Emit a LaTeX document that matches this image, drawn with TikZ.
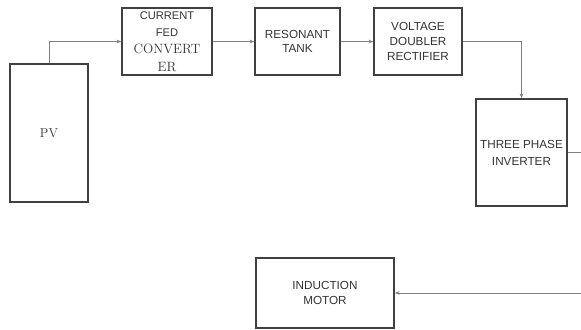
\documentclass[tikz,border=0pt]{standalone}
\usepackage{fontspec}
\setsansfont{Liberation Sans}
\usetikzlibrary{arrows.meta}

\begin{document}
\begin{tikzpicture}[
    >={Stealth[length=4pt,width=3pt]},
    every node/.style={font=\sffamily\fontsize{10}{12.8}\selectfont, text=black!80},
    blk/.style={draw=black!75, line width=1.3pt, align=center, inner sep=1pt},
    link/.style={draw=black!50, line width=0.6pt}
]
\clip (0,0) rectangle (17.43,-9.9);

\node[blk, minimum width=2.34cm, minimum height=4.14cm, font=\rmfamily\fontsize{11}{13}\selectfont] (pv) at (1.47,-3.99) {PV};
\node[blk, minimum width=2.7cm, minimum height=2.01cm, font=\sffamily\fontsize{9.5}{14.7}\selectfont] (conv) at (5.01,-1.245) {
CURRENT\\
FED\\
{\rmfamily\fontsize{11.5}{14.7}\selectfont CONVERT}\\
{\rmfamily\fontsize{11.5}{14.7}\selectfont ER}};
\node[blk, minimum width=2.55cm, minimum height=2.01cm, font=\sffamily\fontsize{10}{12}\selectfont] (tank) at (8.925,-1.245) {RESONANT\\TANK};
\node[blk, minimum width=2.64cm, minimum height=2.01cm] (vdr) at (12.54,-1.245) {VOLTAGE\\DOUBLER\\RECTIFIER};
\node[blk, minimum width=2.73cm, minimum height=3.21cm, font=\sffamily\fontsize{10}{14.5}\selectfont] (inv) at (15.645,-4.575) {THREE PHASE\\INVERTER};
\node[blk, minimum width=4.14cm, minimum height=2.1cm] (motor) at (9.75,-8.79) {INDUCTION\\MOTOR};

\draw[link, ->] (pv.north) |- (conv.west);
\draw[link, ->] (conv.east) -- (tank.west);
\draw[link, ->] (tank.east) -- (vdr.west);
\draw[link, ->] (vdr.east) -| (inv.north);
\draw[link, ->] (inv.east) -- ++(0.6,0) |- (motor.east);

\end{tikzpicture}
\end{document}
